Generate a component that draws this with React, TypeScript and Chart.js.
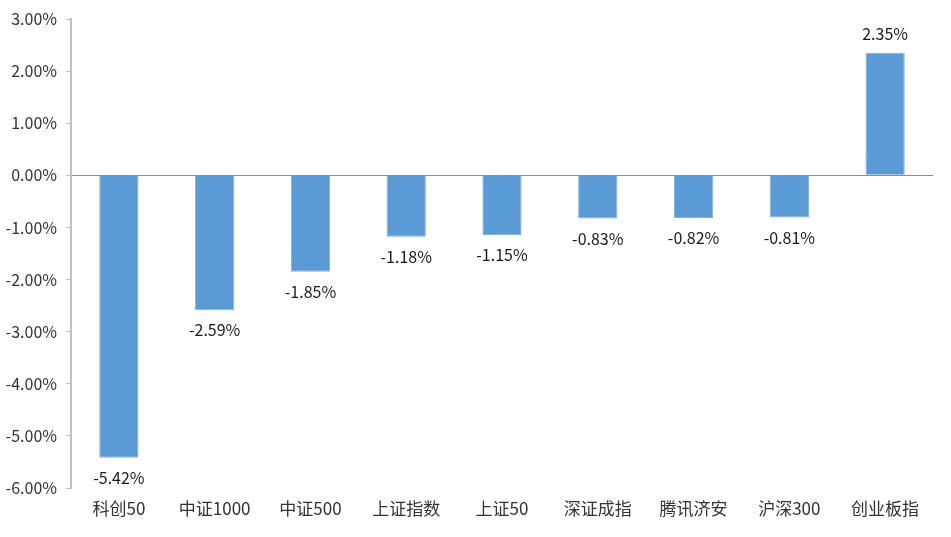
import React, { useEffect, useRef } from "react";
import { Chart, registerables } from "chart.js";

Chart.register(...registerables);

const categories = ["科创50", "中证1000", "中证500", "上证指数", "上证50", "深证成指", "腾讯济安", "沪深300", "创业板指"];
const values = [-5.42, -2.59, -1.85, -1.18, -1.15, -0.83, -0.82, -0.81, 2.35];
const yTicks = [3, 2, 1, 0, -1, -2, -3, -4, -5, -6];

const FONT = "'Noto Sans CJK SC', 'Noto Sans', sans-serif";

const labelPlugin = {
  id: "valueLabels",
  afterDatasetsDraw(chart: any) {
    const ctx = chart.ctx;
    const meta = chart.getDatasetMeta(0);
    ctx.save();
    ctx.font = `16px ${FONT}`;
    ctx.fillStyle = "#1a1a1a";
    ctx.textAlign = "center";
    ctx.textBaseline = "middle";
    meta.data.forEach((bar: any, i: number) => {
      const v = values[i];
      const y = v >= 0 ? bar.y - 19 : bar.y + 20;
      ctx.fillText(v.toFixed(2) + "%", bar.x, y);
    });
    ctx.restore();
  },
};

export default function App() {
  const ref = useRef<HTMLCanvasElement>(null);
  useEffect(() => {
    const chart = new Chart(ref.current!, {
      type: "bar",
      data: {
        labels: categories,
        datasets: [
          {
            data: values,
            backgroundColor: "#5B9BD5",
            borderColor: "#7FB2E0",
            borderWidth: 1,
            categoryPercentage: 1,
            barPercentage: 0.41,
          },
        ],
      },
      options: {
        animation: false,
        responsive: false,
        maintainAspectRatio: false,
        layout: { padding: { left: 0, right: 18, top: 19, bottom: 0 } },
        plugins: { legend: { display: false }, tooltip: { enabled: false } },
        scales: {
          x: {
            grid: { display: false, drawTicks: false },
            border: { display: false },
            ticks: { color: "#333", font: { family: FONT, size: 17 }, padding: 10, maxRotation: 0 },
            afterFit: (s: any) => { s.height = 49; },
          },
          y: {
            min: -6,
            max: 3,
            afterBuildTicks: (s: any) => { s.ticks = yTicks.map((v) => ({ value: v })); },
            grid: {
              color: (c: any) => (c.tick && c.tick.value === 0 ? "#8c8c8c" : "transparent"),
              tickColor: "#bfbfbf",
              tickLength: 5,
              lineWidth: 1,
            },
            border: { color: "#bfbfbf", width: 2 },
            ticks: {
              color: "#333",
              font: { family: FONT, size: 16 },
              padding: 9,
              callback: (v: any) => Number(v).toFixed(2) + "%",
            },
            afterFit: (s: any) => { s.width = 71; },
          },
        },
      },
      plugins: [labelPlugin],
    });
    return () => chart.destroy();
  }, []);
  return (
    <div style={{ position: "fixed", left: 0, top: 0, width: 951, height: 537, background: "#fff" }}>
      <canvas ref={ref} width={951} height={537} style={{ width: 951, height: 537 }} />
    </div>
  );
}
